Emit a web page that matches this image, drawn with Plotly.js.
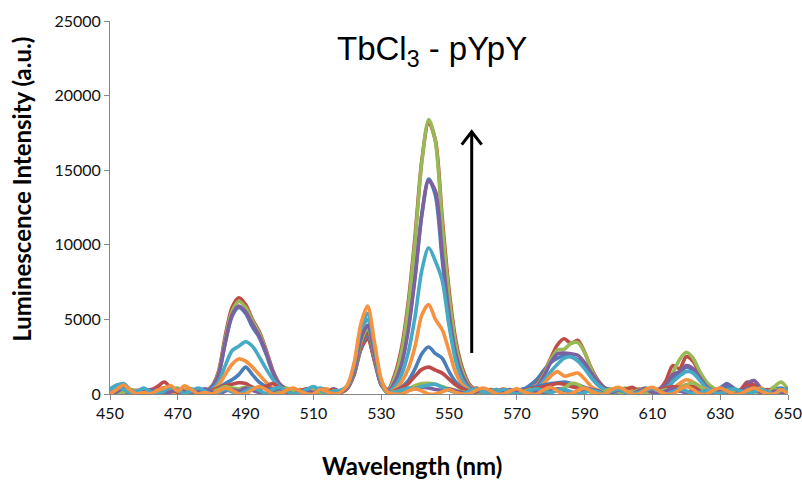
<!DOCTYPE html>
<html>
<head>
<meta charset="utf-8">
<script src="https://cdn.plot.ly/plotly-3.0.1.min.js"></script>
<style>html,body{margin:0;padding:0;background:#fff;}#chart{width:802px;height:483px;}</style>
</head>
<body>
<div id="chart"></div>
<script>
// Wavelength (nm), 2 nm steps
const wavelength = [
 450,452,454,456,458,460,462,464,466,468,
 470,472,474,476,478,480,482,484,486,488,
 490,492,494,496,498,500,502,504,506,508,
 510,512,514,516,518,520,522,524,526,528,
 530,532,534,536,538,540,542,544,546,548,
 550,552,554,556,558,560,562,564,566,568,
 570,572,574,576,578,580,582,584,586,588,
 590,592,594,596,598,600,602,604,606,608,
 610,612,614,616,618,620,622,624,626,628,
 630,632,634,636,638,640,642,644,646,648,
 650];

const s01_blue = [
 150,300,450,200,0,100,300,150,0,200,
 250,100,0,150,200,450,1300,3400,5200,5800,
 5400,4500,3800,2700,1450,600,250,100,200,300,
 150,0,100,250,100,380,1300,3000,3800,2300,
 650,250,850,2100,4500,8000,12100,14400,13300,9000,
 5100,2500,1100,400,150,250,100,300,150,0,
 200,300,600,1000,1600,2100,2400,2600,2500,2300,
 1800,1100,600,300,150,300,100,0,250,400,
 200,300,500,1100,1400,1800,1600,1000,500,200,
 400,700,350,100,300,500,200,0,300,400,
 150];
const s02_red = [
 300,150,0,100,250,100,200,350,150,0,
 100,300,150,200,200,500,1500,3900,5800,6450,
 6000,5000,4200,3000,1600,700,300,100,250,150,
 0,100,300,150,100,370,1300,3000,3700,2200,
 650,300,1300,3100,6200,10600,15700,18200,17000,11800,
 7000,3600,1700,650,250,100,300,200,50,150,
 300,200,300,700,1400,2400,3300,3700,3400,3600,
 2800,1700,900,400,200,300,150,0,200,350,
 150,300,900,1900,1700,2500,2200,1300,600,300,
 100,250,150,300,800,600,200,100,300,150,
 0];
const s03_green = [
 0,200,300,100,0,250,150,0,300,200,
 0,150,300,100,200,450,1400,3700,5550,6200,
 5800,4900,4100,2900,1500,650,300,200,0,100,
 300,150,0,200,100,400,1400,3200,4000,2400,
 650,250,1100,2800,5900,10300,15600,18400,16900,11400,
 6600,3300,1500,550,200,0,150,300,100,0,
 200,100,250,600,1300,2300,2950,3000,3400,3450,
 2800,1600,800,350,100,250,400,150,0,200,
 100,200,500,1400,2300,2800,2400,1500,800,400,
 150,0,200,100,300,150,0,200,500,800,
 300];
const s04_purple = [
 200,400,300,100,0,200,100,300,400,150,
 300,100,0,200,150,450,1300,3500,5300,5900,
 5500,4700,3900,2800,1500,650,350,100,300,200,
 100,0,200,350,150,430,1500,3450,4300,2600,
 600,200,800,2000,4300,7800,12000,14300,13600,9400,
 5400,2700,1200,450,150,300,100,0,200,100,
 0,150,250,500,1200,2100,2700,2750,2700,2600,
 2100,1400,800,400,300,100,200,350,150,0,
 200,350,600,1300,1500,1900,1700,1100,500,250,
 300,650,400,150,700,900,400,100,200,0,
 100];
const s05_cyan = [
 350,600,700,300,100,0,200,350,150,0,
 200,100,350,150,100,300,800,1900,2900,3200,
 3500,3200,2500,1700,1000,500,250,350,100,0,
 200,400,250,0,150,500,1800,4200,5000,3000,
 850,150,500,1300,2800,5200,8300,9800,8900,7600,
 4600,2200,900,350,150,0,200,300,100,250,
 150,0,200,400,900,1500,2000,2400,2500,2200,
 1700,1100,600,300,150,0,250,100,300,150,
 0,300,400,800,1200,1500,1400,900,400,200,
 0,300,150,0,200,400,250,0,150,300,
 200];
const s06_orange = [
 0,200,100,300,150,0,250,400,200,0,
 150,300,100,0,100,200,600,1300,2000,2350,
 2200,1800,1300,800,400,200,0,150,300,100,
 0,250,350,100,150,460,1600,3700,4600,2750,
 750,100,300,800,1700,3200,5300,6000,5000,4300,
 2900,1400,600,250,100,200,0,150,350,200,
 0,100,200,300,700,1200,1500,1200,1300,1400,
 1000,500,250,100,300,200,0,200,350,100,
 0,150,250,400,700,950,800,500,300,100,
 0,200,350,150,0,250,400,150,0,200,
 100];
const s07_blue = [
 100,350,250,50,0,150,300,100,0,200,
 350,150,0,100,300,200,400,700,950,1300,
 1800,1300,800,500,300,150,250,100,0,50,
 150,300,100,50,150,400,1400,3200,4000,2400,
 650,50,200,450,900,1700,2700,3150,2700,2400,
 1500,800,400,200,100,250,100,0,150,300,
 200,350,400,500,600,700,750,800,700,600,
 450,300,200,100,250,150,0,100,300,150,
 0,200,300,250,400,500,450,300,100,50,
 200,500,300,100,0,150,300,100,0,200,
 350];
const s08_red = [
 200,100,300,150,0,100,250,500,800,400,
 100,0,200,300,150,250,400,550,650,750,
 700,450,350,500,700,400,150,0,200,350,
 150,0,100,300,150,420,1450,3350,4200,2500,
 700,100,200,400,700,1200,1650,1800,1600,1400,
 1000,600,350,200,400,250,0,150,300,100,
 0,200,350,400,500,600,700,650,500,400,
 300,150,0,100,250,150,300,450,200,0,
 150,300,400,500,450,600,500,300,100,200,
 350,150,0,200,600,400,150,300,100,0,
 200];
const s09_green = [
 100,0,150,300,200,0,100,250,150,300,
 400,200,0,100,250,150,300,500,400,350,
 450,300,150,0,100,250,400,200,0,150,
 300,100,0,200,150,440,1550,3500,4400,2650,
 750,100,150,250,350,550,700,720,650,500,
 350,250,150,0,100,300,150,0,200,100,
 0,150,300,200,100,250,300,400,700,650,
 300,100,0,200,350,150,0,100,250,100,
 0,150,300,200,400,600,750,500,200,0,
 100,250,150,0,200,100,0,150,300,200,
 0];
const s10_purple = [
 0,150,400,250,100,0,200,300,100,150,
 300,150,0,200,350,150,0,200,300,200,
 400,250,100,0,200,350,200,0,150,250,
 100,300,150,0,100,460,1600,3700,4600,2750,
 800,200,0,150,250,350,450,400,300,250,
 350,200,100,0,150,300,200,0,100,250,
 150,0,200,150,0,200,350,250,100,0,
 150,300,200,0,100,250,150,0,200,300,
 100,0,200,350,200,100,250,150,0,100,
 300,150,0,200,400,300,100,0,200,150,
 0];
const s11_cyan = [
 250,500,300,100,200,400,150,0,200,450,
 250,50,200,400,200,0,100,300,150,0,
 200,400,250,50,300,450,200,0,100,300,
 500,250,50,200,250,540,1900,4400,5400,3200,
 900,150,100,250,400,350,500,600,650,450,
 250,100,0,200,350,200,0,150,300,150,
 0,100,250,350,200,100,250,300,150,0,
 100,250,150,0,200,300,150,0,100,250,
 350,200,0,150,300,200,0,100,250,150,
 0,200,350,200,0,150,300,150,0,250,
 300];
const s12_orange = [
 0,300,600,250,0,100,0,250,400,550,
 200,550,300,0,100,0,200,400,250,0,
 0,300,500,300,0,0,250,400,200,0,
 0,300,150,0,120,590,2070,4700,5900,3500,
 1000,100,0,0,200,350,200,0,0,150,
 300,100,0,0,250,400,250,0,0,200,
 350,150,0,0,300,450,200,0,0,250,
 400,200,0,0,300,450,250,0,0,300,
 450,200,0,0,300,500,300,0,0,250,
 400,200,0,0,250,400,200,0,0,300,
 0];

const seriesList = [s01_blue,s02_red,s03_green,s04_purple,s05_cyan,s06_orange,
                    s07_blue,s08_red,s09_green,s10_purple,s11_cyan,s12_orange];
const palette = ['#4A7EBB','#BE4B48','#98B954','#7D60A0','#46AAC5','#F69240'];

const yTickVals = [0,5000,10000,15000,20000,25000];
const xTickVals = [450,470,490,510,530,550,570,590,610,630,650];

const arrowX = 556.7, arrowY0 = 2750, arrowY1 = 17580;

const traces = seriesList.map((ys,i)=>({
  x: wavelength, y: ys, type:'scatter', mode:'lines',
  line:{color: palette[i%6], width:3.6, shape:'spline', smoothing:0.8},
  hoverinfo:'skip', showlegend:false
}));

const axisFont = {family:'Lato, "Liberation Sans", Arial, sans-serif', size:16, color:'#111'};

const layout = {
  width:802, height:483,
  margin:{l:110, r:14, t:21, b:89},
  paper_bgcolor:'#fff', plot_bgcolor:'#fff',
  showlegend:false,
  xaxis:{range:[450,650], tickmode:'array', tickvals:xTickVals, ticks:'outside', ticklen:5,
         tickcolor:'#868686', showline:true, linecolor:'#868686', linewidth:1,
         showgrid:false, zeroline:false, tickfont:axisFont, fixedrange:true},
  yaxis:{range:[0,25000], tickmode:'array', tickvals:yTickVals, tickformat:'d', ticks:'outside', ticklen:5,
         tickcolor:'#868686', showline:true, linecolor:'#868686', linewidth:1,
         showgrid:false, zeroline:false, tickfont:axisFont, fixedrange:true},
  annotations:[
    {text:'TbCl<sub>3</sub> - pYpY', xref:'x', yref:'y', x:545, y:23000, showarrow:false,
     xanchor:'center', yanchor:'middle', font:{family:'"Liberation Sans", Arial, sans-serif', size:33, color:'#000'}},
    {text:'<b>Luminescence Intensity (a.u.)</b>', xref:'paper', yref:'paper', x:-0.131, y:0.548,
     textangle:-90, showarrow:false, xanchor:'center', yanchor:'middle',
     font:{family:'Lato, "Liberation Sans", sans-serif', size:24, color:'#000'}},
    {text:'<b>Wavelength (nm)</b>', xref:'paper', yref:'paper', x:0.445, y:-0.193,
     showarrow:false, xanchor:'center', yanchor:'middle',
     font:{family:'Lato, "Liberation Sans", sans-serif', size:24, color:'#000'}}
  ],
  shapes:[
    {type:'line', xref:'x', yref:'y', x0:arrowX, x1:arrowX, y0:arrowY0, y1:arrowY1-60,
     line:{color:'#000', width:3}},
    {type:'path', xref:'x', yref:'y',
     path:'M '+(arrowX-2.95)+','+(arrowY1-870)+' L '+arrowX+','+arrowY1+' L '+(arrowX+2.95)+','+(arrowY1-870),
     line:{color:'#000', width:3}}
  ]
};

Plotly.newPlot('chart', traces, layout, {staticPlot:true, displayModeBar:false});
</script>
</body>
</html>
